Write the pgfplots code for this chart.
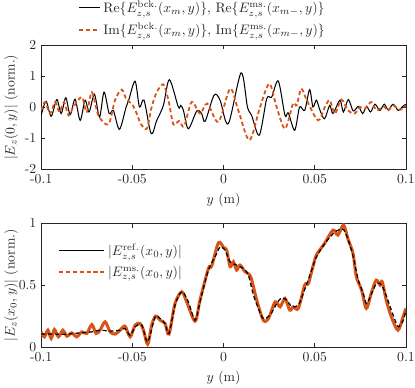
\documentclass[border=0pt]{standalone}
\usepackage{pgfplots}
\pgfplotsset{compat=1.18}
\usepackage{amsmath}
\definecolor{morange}{RGB}{217,83,25}
\definecolor{axgray}{RGB}{38,38,38}

\pgfplotsset{mstyle/.style={
  scale only axis, width=266pt, height=90.5pt,
  xmin=-0.1, xmax=0.1,
  xtick={-0.1,-0.05,0,0.05,0.1}, xticklabels={-0.1,-0.05,0,0.05,0.1},
  tick align=inside, major tick length=3pt,
  axis line style={axgray, line width=0.4pt},
  every tick/.style={axgray, line width=0.4pt},
  tick label style={text=axgray},
  label style={text=axgray},
  xlabel={$y$ (m)},
  ylabel style={at={(axis description cs:-0.082,0.5)}, anchor=center},
  legend cell align=left,
  legend style={draw=none, fill=none, text=axgray},
}}

\begin{document}
\begin{tikzpicture}
\path[use as bounding box] (-30pt,-158.9pt) rectangle (272.6pt,123.5pt);

% top: real and imaginary parts
\begin{axis}[mstyle, name=top, at={(0,0)}, anchor=south west,
  ymin=-2, ymax=2, ytick={-2,-1,0,1,2}, yticklabels={-2,-1,0,1,2},
  ylabel={$|E_z(0,y)|$ (norm.)},
  legend style={at={(axis description cs:0.09,1.022)}, anchor=south west, row sep=2pt},
  legend image code/.code={\draw[#1] (0pt,0pt) -- (15pt,0pt);},
]
\addplot[black, line width=0.75pt, smooth] coordinates {
(-0.1,-0.26) (-0.0973,0.19) (-0.0945,-0.29) (-0.0914,0.25) (-0.0890,-0.20)
(-0.0865,0.31) (-0.0841,-0.24) (-0.0814,0.26) (-0.0786,-0.42) (-0.0759,0.23)
(-0.0737,-0.15) (-0.0708,0.42) (-0.0680,-0.31) (-0.0655,0.49) (-0.0627,-0.20)
(-0.0604,-0.10) (-0.0571,-0.71) (-0.0534,0.01) (-0.0520,0.23) (-0.0485,0.84)
(-0.0461,0.01) (-0.0436,0.23) (-0.0397,-0.85) (-0.0366,-0.42) (-0.0330,0.06)
(-0.0297,0.89) (-0.0248,0.01) (-0.0235,0.06) (-0.0220,-0.10) (-0.0193,-0.69)
(-0.0147,-0.12) (-0.0120,-0.20) (-0.0101,-0.45) (-0.0052,0.39) (-0.0019,0.23)
(0.0026,-0.53) (0.0096,1.11) (0.0131,0.01) (0.0154,-0.26) (0.0196,-0.90)
(0.0237,0.28) (0.0264,0.33) (0.0300,0.85) (0.0337,-0.26) (0.0355,-0.18)
(0.0390,-0.74) (0.0417,0.01) (0.0445,-0.10) (0.0472,0.57) (0.0490,0.01)
(0.0509,0.23) (0.0529,-0.10) (0.0554,-0.37) (0.0582,0.06) (0.0600,-0.20)
(0.0638,0.23) (0.0657,-0.15) (0.0684,0.25) (0.0711,-0.12) (0.0739,0.03)
(0.0763,-0.20) (0.0784,0.03) (0.0806,-0.15) (0.0830,0.10) (0.0857,-0.10)
(0.0881,0.10) (0.0903,-0.08) (0.0930,0.10) (0.0958,-0.10) (0.0982,0.03)
(0.1,0.10)};
\addlegendentry{$\mathrm{Re}\{E_{z,s}^{\mathrm{bck.}}(x_m,y)\}$, $\mathrm{Re}\{E_{z,s}^{\mathrm{ms.}}(x_{m-},y)\}$}
\addplot[morange, line width=1.3pt, dash pattern=on 3pt off 2pt, smooth] coordinates {
(-0.1,-0.10) (-0.0978,0.17) (-0.0951,-0.20) (-0.0923,0.17) (-0.0900,-0.15)
(-0.0874,0.17) (-0.0850,-0.26) (-0.0823,0.01) (-0.0777,0.33) (-0.0750,-0.15)
(-0.0722,0.49) (-0.0686,-0.26) (-0.0631,-0.55) (-0.0595,0.23) (-0.0558,0.57)
(-0.0531,0.23) (-0.0503,0.12) (-0.0476,-0.20) (-0.0454,-0.53) (-0.0421,-0.69)
(-0.0394,0.01) (-0.0366,0.49) (-0.0330,0.74) (-0.0302,0.23) (-0.0275,-0.55)
(-0.0244,-0.44) (-0.0216,-0.61) (-0.0175,0.17) (-0.0129,-0.20) (-0.0089,0.12)
(-0.0028,-0.47) (0.0036,0.60) (0.0081,-0.10) (0.0142,-1.06) (0.0200,0.01)
(0.0251,0.76) (0.0291,0.01) (0.0337,-0.69) (0.0381,0.12) (0.0401,0.06)
(0.0426,0.60) (0.0456,0.23) (0.0518,-0.42) (0.0556,0.01) (0.0582,0.23)
(0.0611,-0.20) (0.0646,0.25) (0.0682,-0.10) (0.0719,-0.20) (0.0748,0.01)
(0.0775,-0.04) (0.0810,0.17) (0.0839,-0.10) (0.0876,0.03) (0.0903,-0.10)
(0.0930,0.06) (0.0967,-0.08) (0.1,0.06)};
\addlegendentry{$\mathrm{Im}\{E_{z,s}^{\mathrm{bck.}}(x_m,y)\}$, $\mathrm{Im}\{E_{z,s}^{\mathrm{ms.}}(x_{m-},y)\}$}
\end{axis}

% bottom: magnitudes
\begin{axis}[mstyle, at={(0,-129.9pt)}, anchor=south west,
  ymin=0, ymax=1, ytick={0,0.5,1}, yticklabels={0,0.5,1},
  ylabel={$|E_z(x_0,y)|$ (norm.)},
  legend style={at={(axis description cs:0.035,0.88)}, anchor=north west, row sep=2pt},
  legend image code/.code={\draw[#1] (0pt,0pt) -- (15pt,0pt); \path (0pt,0pt) -- (33pt,0pt);},
]
\addplot[morange, line width=2.2pt, smooth, forget plot] coordinates {
(-0.1,0.126) (-0.0982,0.086) (-0.0963,0.140) (-0.0945,0.073) (-0.0927,0.145)
(-0.0905,0.086) (-0.0881,0.140) (-0.0859,0.091) (-0.0832,0.118) (-0.0805,0.086)
(-0.0777,0.126) (-0.0750,0.113) (-0.0722,0.185) (-0.0699,0.113) (-0.0677,0.140)
(-0.0649,0.207) (-0.0622,0.126) (-0.0595,0.108) (-0.0567,0.140) (-0.0540,0.172)
(-0.0512,0.086) (-0.0485,0.180) (-0.0458,0.194) (-0.0439,0.140) (-0.0416,0.027)
(-0.0394,0.180) (-0.0372,0.253) (-0.0348,0.220) (-0.0321,0.194) (-0.0299,0.108)
(-0.0266,0.355) (-0.0229,0.449) (-0.0202,0.368) (-0.0156,0.212) (-0.0129,0.382)
(-0.0083,0.637) (-0.0065,0.656) (-0.0028,0.844) (0,0.806) (0.0017,0.785)
(0.0036,0.651) (0.0054,0.691) (0.0072,0.624) (0.0090,0.664) (0.0118,0.610)
(0.0149,0.570) (0.0182,0.382) (0.0218,0.220) (0.0246,0.234) (0.0283,0.368)
(0.0310,0.328) (0.0337,0.395) (0.0363,0.301) (0.0383,0.328) (0.0410,0.315)
(0.0445,0.503) (0.0465,0.516) (0.0490,0.651) (0.0509,0.745) (0.0554,0.839)
(0.0600,0.946) (0.0627,0.906) (0.0658,0.987) (0.0684,0.866) (0.0710,0.758)
(0.0728,0.570) (0.0757,0.462) (0.0783,0.315) (0.0812,0.449) (0.0837,0.543)
(0.0858,0.503) (0.0870,0.530) (0.0892,0.382) (0.0920,0.247) (0.0956,0.140)
(0.0984,0.247) (0.1,0.315)};
\addplot[black, line width=0.9pt, dash pattern=on 3pt off 2pt, smooth, forget plot] coordinates {
(-0.1,0.108) (-0.0932,0.108) (-0.0859,0.108) (-0.0786,0.118) (-0.0722,0.126)
(-0.0677,0.140) (-0.0622,0.132) (-0.0567,0.140) (-0.0540,0.153) (-0.0512,0.099)
(-0.0485,0.167) (-0.0448,0.180) (-0.0416,0.046) (-0.0375,0.247) (-0.0348,0.234)
(-0.0321,0.194) (-0.0299,0.113) (-0.0266,0.341) (-0.0229,0.449) (-0.0193,0.368)
(-0.0156,0.220) (-0.0129,0.368) (-0.0083,0.624) (-0.0037,0.758) (-0.0019,0.812)
(0.0008,0.785) (0.0036,0.691) (0.0072,0.664) (0.0109,0.637) (0.0136,0.583)
(0.0164,0.422) (0.0191,0.315) (0.0218,0.234) (0.0255,0.261) (0.0292,0.355)
(0.0319,0.401) (0.0346,0.382) (0.0373,0.333) (0.0410,0.341) (0.0447,0.476)
(0.0483,0.624) (0.0510,0.731) (0.0556,0.839) (0.0602,0.919) (0.0629,0.946)
(0.0657,0.952) (0.0684,0.866) (0.0711,0.731) (0.0739,0.543) (0.0766,0.435)
(0.0784,0.355) (0.0812,0.435) (0.0839,0.516) (0.0867,0.503) (0.0894,0.409)
(0.0930,0.261) (0.0958,0.167) (0.0985,0.220) (0.1,0.301)};
\addlegendimage{black, line width=0.75pt}
\addlegendentry{$|E_{z,s}^{\mathrm{ref.}}(x_0,y)|$}
\addlegendimage{morange, line width=1.3pt, dash pattern=on 3pt off 2pt}
\addlegendentry{$|E_{z,s}^{\mathrm{ms.}}(x_0,y)|$}
\end{axis}
\end{tikzpicture}
\end{document}
